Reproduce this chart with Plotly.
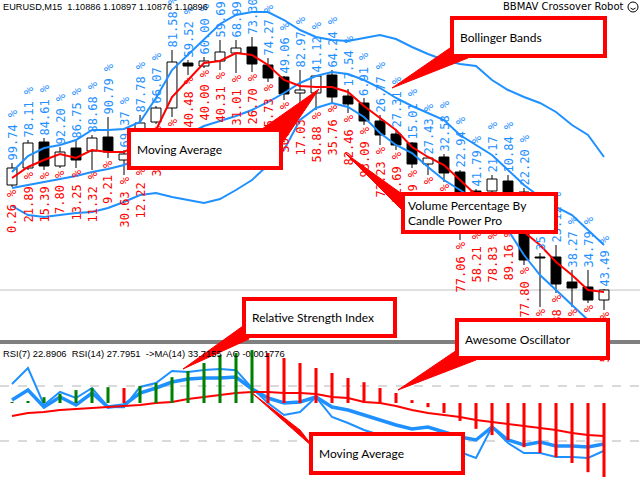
import plotly.graph_objects as go

# ---------------- DATA ----------------
bars = list(range(38))

open_p = [1.11001, 1.11018, 1.11044, 1.11020, 1.11038, 1.11035, 1.11049, 1.11026, 1.11038, 1.11064,
          1.11078, 1.11123, 1.11120, 1.11125, 1.11133, 1.11139, 1.11121, 1.11109, 1.11093, 1.11093,
          1.11111, 1.11090, 1.11083, 1.11065, 1.11052, 1.11043, 1.11022, 1.11029, 1.11014, 1.10995,
          1.10995, 1.11005, 1.10994, 1.10929, 1.10929, 1.10904, 1.10899, 1.10886]
high_p = [1.11023, 1.11046, 1.11048, 1.11039, 1.11045, 1.11051, 1.11069, 1.11036, 1.11071, 1.11080,
          1.11136, 1.11126, 1.11129, 1.11146, 1.11146, 1.11149, 1.11128, 1.11110, 1.11116, 1.11111,
          1.11116, 1.11097, 1.11088, 1.11071, 1.11056, 1.11044, 1.11029, 1.11032, 1.11016, 1.10997,
          1.11011, 1.11011, 1.10998, 1.10933, 1.10941, 1.10916, 1.10916, 1.10897]
low_p = [1.10999, 1.11016, 1.11016, 1.11018, 1.11018, 1.11016, 1.11028, 1.11011, 1.11020, 1.11062,
         1.11069, 1.11111, 1.11118, 1.11116, 1.11113, 1.11114, 1.11104, 1.11086, 1.11083, 1.11076,
         1.11083, 1.11073, 1.11061, 1.11041, 1.11036, 1.11018, 1.11011, 1.11004, 1.10946, 1.10956,
         1.10956, 1.10958, 1.10921, 1.10879, 1.10893, 1.10879, 1.10883, 1.10876]
close_p = [1.11018, 1.11043, 1.11020, 1.11034, 1.11026, 1.11048, 1.11034, 1.11032, 1.11063, 1.11078,
           1.11124, 1.11120, 1.11125, 1.11134, 1.11138, 1.11122, 1.11108, 1.11092, 1.11096, 1.11110,
           1.11089, 1.11082, 1.11065, 1.11051, 1.11041, 1.11022, 1.11028, 1.11013, 1.10994, 1.10992,
           1.11007, 1.10994, 1.10926, 1.10928, 1.10902, 1.10898, 1.10886, 1.10896]

ma_main = [1.11008, 1.11019, 1.11026, 1.11032, 1.11028, 1.11036, 1.11034, 1.11034, 1.11043, 1.11056,
           1.11089, 1.11106, 1.11123, 1.11125, 1.11133, 1.11131, 1.11121, 1.11106, 1.11100, 1.11099,
           1.11099, 1.11094, 1.11080, 1.11068, 1.11056, 1.11039, 1.11029, 1.11021, 1.11006, 1.10991,
           1.10978, 1.10966, 1.10954, 1.10941, 1.10924, 1.10911, 1.10896, 1.10894]
bb_upper = [1.11014, 1.11030, 1.11038, 1.11041, 1.11046, 1.11056, 1.11056, 1.11057, 1.11064, 1.11088,
            1.11116, 1.11131, 1.11146, 1.11162, 1.11171, 1.11174, 1.11174, 1.11166, 1.11156, 1.11149,
            1.11146, 1.11145, 1.11148, 1.11151, 1.11147, 1.11139, 1.11132, 1.11126, 1.11122, 1.11120,
            1.11106, 1.11096, 1.11089, 1.11083, 1.11074, 1.11061, 1.11051, 1.11029]
bb_middle = [1.10998, 1.11001, 1.11004, 1.11007, 1.11010, 1.11014, 1.11017, 1.11021, 1.11028, 1.11036,
             1.11044, 1.11052, 1.11060, 1.11065, 1.11070, 1.11076, 1.11084, 1.11093, 1.11103, 1.11110,
             1.11114, 1.11112, 1.11106, 1.11098, 1.11088, 1.11080, 1.11073, 1.11066, 1.11051, 1.11041,
             1.11031, 1.11016, 1.11001, 1.10989, 1.10979, 1.10971, 1.10956, 1.10941]
bb_lower = [1.10980, 1.10971, 1.10969, 1.10971, 1.10973, 1.10974, 1.10978, 1.10984, 1.10991, 1.10993,
            1.10989, 1.10986, 1.10983, 1.10987, 1.10996, 1.11006, 1.11021, 1.11036, 1.11066, 1.11078,
            1.11083, 1.11079, 1.11069, 1.11053, 1.11041, 1.11033, 1.11019, 1.11006, 1.10996, 1.10986,
            1.10971, 1.10956, 1.10931, 1.10911, 1.10896, 1.10881, 1.10866, 1.10851]

buy_pct = [99.74, 78.11, 84.61, 92.20, 86.75, 88.68, 90.79, 69.37, 87.78, 66.07,
           81.58, 59.52, 60.00, 59.69, 68.99, 73.30, 74.27, 49.06, 82.97, 41.12,
           64.24, 17.54, 6.91, 26.77, 27.31, 15.01, 27.43, 32.58, 22.94, 41.79,
           21.17, 10.84, 22.20, 35.62, 23.12, 38.27, 34.79, 43.49]
sell_pct = [0.26, 21.89, 15.39, 7.80, 13.25, 11.32, 9.21, 30.63, 12.22, 33.93,
            18.42, 40.48, 40.00, 40.31, 31.01, 26.70, 25.73, 50.94, 17.03, 58.88,
            35.76, 82.46, 93.09, 73.23, 72.69, 84.99, 72.57, 67.42, 77.06, 58.21,
            78.83, 89.16, 77.80, 64.38, 76.88, 61.73, 65.21, 56.51]

rsi7 = [71.45, 83.09, 56.18, 65.64, 61.27, 68.55, 54.73, 54.50, 69.27, 72.18,
        80.91, 80.18, 81.64, 82.36, 81.50, 68.55, 57.64, 48.91, 51.09, 62.00,
        47.45, 43.09, 38.00, 34.36, 30.73, 27.09, 28.55, 24.91, 22.00, 17.64,
        40.18, 28.55, 21.27, 21.30, 18.36, 18.40, 17.64, 22.8906]
rsi14 = [59.82, 67.09, 54.73, 62.00, 56.18, 64.91, 54.70, 56.20, 64.90, 68.55,
         72.91, 75.09, 75.82, 75.80, 76.55, 67.82, 61.27, 57.64, 58.36, 62.00,
         54.73, 52.55, 48.91, 45.27, 41.64, 38.73, 40.18, 36.55, 32.91, 30.73,
         40.18, 30.70, 27.09, 29.27, 26.36, 26.40, 25.64, 27.7951]
rsi_ma = [48.18, 50.36, 51.09, 52.55, 53.27, 54.00, 54.73, 55.45, 56.18, 57.64,
          58.36, 60.55, 62.00, 63.45, 64.91, 65.64, 65.60, 64.90, 64.90, 64.18,
          62.00, 61.27, 58.36, 57.64, 55.45, 52.55, 50.36, 48.91, 47.45, 45.27,
          43.82, 42.36, 40.91, 39.45, 38.00, 35.82, 34.36, 33.7155]
ao = [0.00002, 0.00004, 0.00014, 0.00022, 0.00031, 0.00036, 0.00038, 0.00036, 0.00041, 0.00048,
      0.00062, 0.00077, 0.00096, 0.00115, 0.00120, 0.00127, 0.00120, 0.00108, 0.00096, 0.00084,
      0.00072, 0.00060, 0.00050, 0.00036, 0.00024, 0.00007, -0.00010, -0.00024, -0.00043, -0.00062,
      -0.00077, -0.00089, -0.00106, -0.00120, -0.00130, -0.00144, -0.00166, -0.001776]

rsi_levels = [70, 30]
header = "EURUSD,M15  1.10886 1.10897 1.10876 1.10896"
robot = "BBMAV Crossover Robot"
sub_header = "RSI(7) 22.8906  RSI(14) 27.7951  ->MA(14) 33.7155  AO -0.001776"

# ---------------- FIGURE ----------------
W, H = 640, 480
def px(x):
    return x / W
def py(y):
    return 1 - y / H

BLUE = "#1E90FF"
fig = go.Figure()

# candle bodies
body_base = [min(o, c) for o, c in zip(open_p, close_p)]
body_h = [max(abs(c - o), 0.000005) for o, c in zip(open_p, close_p)]
body_col = ["white" if c > o else "black" for o, c in zip(open_p, close_p)]
fig.add_trace(go.Bar(x=bars, y=body_h, base=body_base, width=0.62,
                     marker=dict(color=body_col, line=dict(color="black", width=1)),
                     xaxis="x", yaxis="y", hoverinfo="skip"))
# wicks (outside the body)
wx, wy = [], []
for i in bars:
    top = max(open_p[i], close_p[i]); bot = min(open_p[i], close_p[i])
    wx += [i, i, None, i, i, None]
    wy += [high_p[i], top, None, bot, low_p[i], None]
fig.add_trace(go.Scatter(x=wx, y=wy, mode="lines", line=dict(color="black", width=1),
                         xaxis="x", yaxis="y", hoverinfo="skip"))

for s in (bb_upper, bb_middle, bb_lower):
    fig.add_trace(go.Scatter(x=bars, y=s, mode="lines", line=dict(color=BLUE, width=2),
                             xaxis="x", yaxis="y", hoverinfo="skip"))
fig.add_trace(go.Scatter(x=bars, y=ma_main, mode="lines", line=dict(color="red", width=2),
                         xaxis="x", yaxis="y", hoverinfo="skip"))

# sub window
ao_col = ["green" if (i == 0 or ao[i] > ao[i - 1]) else "red" for i in bars]
fig.add_trace(go.Bar(x=bars, y=ao, width=0.19, marker=dict(color=ao_col, line=dict(width=0)),
                     xaxis="x", yaxis="y3", hoverinfo="skip"))
fig.add_trace(go.Scatter(x=bars, y=rsi7, mode="lines", line=dict(color=BLUE, width=2),
                         xaxis="x", yaxis="y2", hoverinfo="skip"))
fig.add_trace(go.Scatter(x=bars, y=rsi14, mode="lines", line=dict(color=BLUE, width=3.5),
                         xaxis="x", yaxis="y2", hoverinfo="skip"))
fig.add_trace(go.Scatter(x=bars, y=rsi_ma, mode="lines", line=dict(color="red", width=2),
                         xaxis="x", yaxis="y2", hoverinfo="skip"))

shapes = []
shapes.append(dict(type="line", xref="paper", x0=0, x1=1, yref="y", y0=close_p[-1], y1=close_p[-1],
                   line=dict(color="#c0c0c0", width=1), layer="below"))
for lv in rsi_levels:
    shapes.append(dict(type="line", xref="paper", x0=0, x1=1, yref="y2", y0=lv, y1=lv,
                       line=dict(color="#b4b4b4", width=1, dash="dash"), layer="below"))
for yy in (341, 343):
    shapes.append(dict(type="line", xref="paper", x0=0, x1=1, yref="paper", y0=py(yy), y1=py(yy),
                       line=dict(color="black", width=1)))

def wedge(tip, b1, b2):
    pts = [tip, b1, b2]
    path = "M " + " L ".join(f"{px(x):.5f},{py(y):.5f}" for x, y in pts) + " Z"
    return dict(type="path", xref="paper", yref="paper", path=path,
                fillcolor="red", line=dict(color="red", width=1), layer="above")

shapes += [wedge((392, 88), (450, 48), (468, 58)),
           wedge((319, 89), (262, 129), (283, 142)),
           wedge((345, 153), (402, 194), (402, 210)),
           wedge((183, 369), (243, 326), (249, 339)),
           wedge((398, 390), (457, 350), (476, 360)),
           wedge((252, 393), (300, 430), (314, 448))]

# smiley next to the robot name
shapes += [dict(type="circle", xref="paper", yref="paper", x0=px(628), x1=px(638), y0=py(12), y1=py(2),
                line=dict(color="black", width=1)),
           dict(type="path", xref="paper", yref="paper",
                path=f"M {px(630.5)},{py(8)} Q {px(633)},{py(11)} {px(635.5)},{py(8)}",
                line=dict(color="black", width=1))]

ann = []
LBL_FONT = "DejaVu Sans Mono"
for i in bars:
    ann.append(dict(x=i, y=high_p[i], xref="x", yref="y", text=f"{buy_pct[i]:.2f} %",
                    textangle=-90, showarrow=False, yanchor="bottom", xanchor="center",
                    borderpad=0, yshift=1, font=dict(family=LBL_FONT, size=12, color=BLUE)))
    ann.append(dict(x=i, y=low_p[i], xref="x", yref="y", text=f"{sell_pct[i]:.2f} %",
                    textangle=-90, showarrow=False, yanchor="top", xanchor="center",
                    borderpad=0, yshift=-1, font=dict(family=LBL_FONT, size=12, color="red")))

def callout(x0, y0, x1, y1, text, pad=6):
    bw = 4
    return dict(xref="paper", yref="paper", x=px((x0 + x1) / 2), y=py((y0 + y1) / 2),
                xanchor="center", yanchor="middle", showarrow=False, text=text, align="left",
                width=(x1 - x0) - 2 * (pad + bw), height=(y1 - y0) - 2 * (pad + bw),
                bgcolor="white", bordercolor="red", borderwidth=bw, borderpad=pad,
                font=dict(family="Lato", size=12, color="black"))

ann += [callout(450, 16, 607, 58, "Bollinger Bands"),
        callout(127, 128, 283, 170, "Moving Average"),
        callout(401, 192, 558, 234, "Volume Percentage By<br>Candle Power Pro", pad=3),
        callout(242, 297, 397, 338, "Relative Strength Index"),
        callout(455, 318, 610, 360, "Awesome Oscillator"),
        callout(309, 432, 465, 475, "Moving Average")]

ann.append(dict(xref="paper", yref="paper", x=px(1), y=py(7), xanchor="left", yanchor="middle",
                text=header, showarrow=False, font=dict(family="Liberation Sans", size=9.2, color="black")))
ann.append(dict(xref="paper", yref="paper", x=px(626), y=py(7), xanchor="right", yanchor="middle",
                text=robot, showarrow=False, font=dict(family="DejaVu Sans", size=10, color="black")))
ann.append(dict(xref="paper", yref="paper", x=px(1), y=py(353), xanchor="left", yanchor="middle",
                text=sub_header, showarrow=False, font=dict(family="Liberation Sans", size=9.4, color="black")))

fig.update_layout(
    width=W, height=H, margin=dict(l=0, r=0, t=0, b=0),
    paper_bgcolor="white", plot_bgcolor="white", showlegend=False, barmode="overlay",
    xaxis=dict(domain=[0, 1], range=[-0.75, 39.25], visible=False, fixedrange=True),
    yaxis=dict(domain=[1 - 341 / 480, 1], range=[1.10845, 1.11186], visible=False),
    yaxis2=dict(domain=[0, 1 - 344 / 480], range=[1.64, 100.55], visible=False),
    yaxis3=dict(overlaying="y2", range=[-0.001848, 0.001416], visible=False),
    shapes=shapes, annotations=ann,
)
fig.write_html("out.html", config={"displayModeBar": False},
               post_script="document.body.style.margin='0';")
